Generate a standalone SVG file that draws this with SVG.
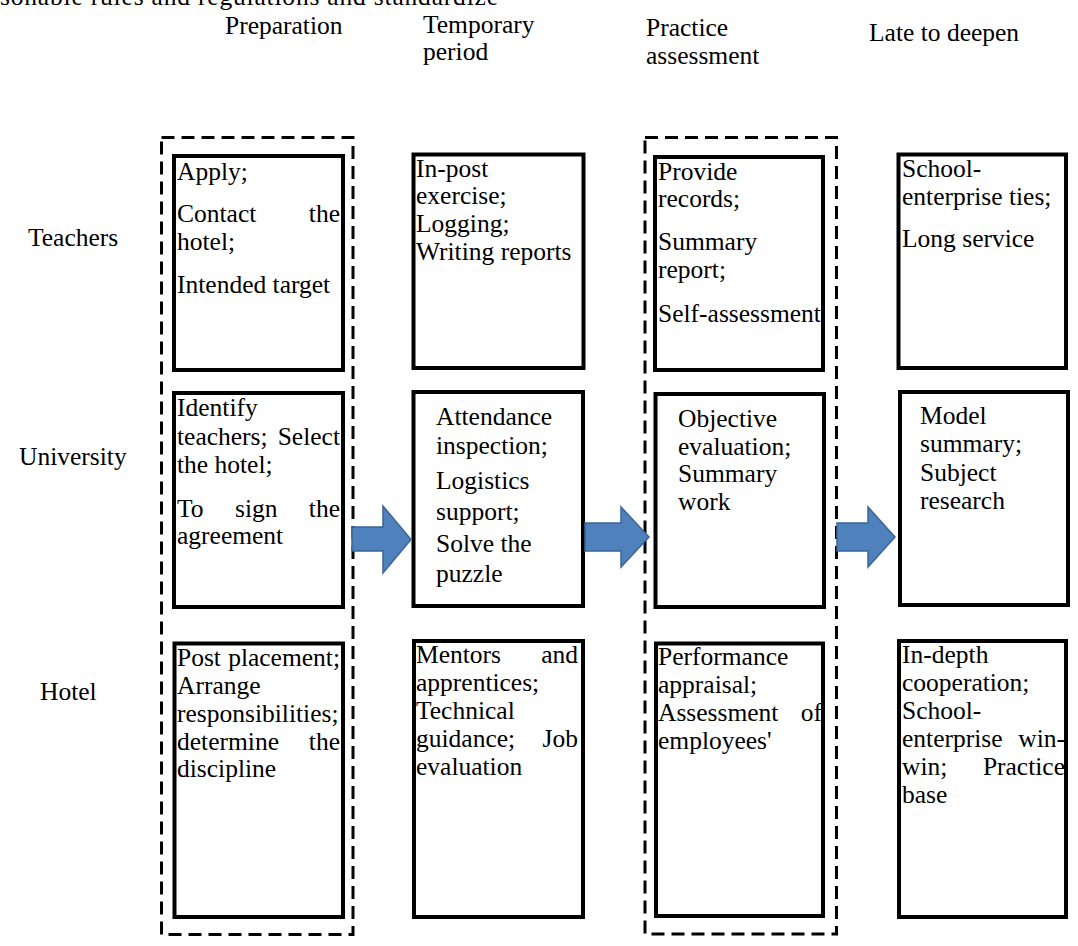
<svg xmlns="http://www.w3.org/2000/svg" width="1078" height="946" viewBox="0 0 1078 946">
<style>
text{font-family:"Liberation Serif","Times New Roman",serif;font-size:25.5px;fill:#000}
.e{text-anchor:end}
.box{fill:#fff;stroke:#000;stroke-width:4}
.dash{fill:none;stroke:#000;stroke-width:3;stroke-dasharray:13 7}
.arr{fill:#4F81BD;stroke:#3A6698;stroke-width:1.5}
</style>
<rect width="1078" height="946" fill="#fff"/>
<text x="0" y="5" textLength="498" lengthAdjust="spacing">sonable rules and regulations and standardize</text>
<g id="headers">
<text x="225" y="34">Preparation</text>
<text x="423" y="33">Temporary</text>
<text x="423" y="60">period</text>
<text x="646" y="36">Practice</text>
<text x="646" y="64">assessment</text>
<text x="869" y="41">Late to deepen</text>
</g>
<g id="rowlabels">
<text x="28" y="246">Teachers</text>
<text x="19" y="465">University</text>
<text x="40" y="700">Hotel</text>
</g>
<g id="groups">
<rect id="prep-group" class="dash" x="161.5" y="137.5" width="191.5" height="797"/>
<rect id="practice-group" class="dash" x="645" y="137.5" width="191.5" height="796.5"/>
</g>
<g id="prep-teachers">
<rect class="box" x="174" y="156" width="169" height="214"/>
<text><tspan x="177" y="180">Apply;</tspan><tspan x="177" y="221.5">Contact</tspan><tspan class="e" x="340" y="221.5">the</tspan><tspan x="177" y="250">hotel;</tspan><tspan x="177" y="293">Intended target</tspan></text>
</g>
<g id="temp-teachers">
<rect class="box" x="413.5" y="154.5" width="170" height="213.5"/>
<text><tspan x="416" y="176.5">In-post</tspan><tspan x="416" y="204">exercise;</tspan><tspan x="416" y="232">Logging;</tspan><tspan x="416" y="260">Writing reports</tspan></text>
</g>
<g id="practice-teachers">
<rect class="box" x="655" y="157" width="168" height="213"/>
<text><tspan x="658" y="180">Provide</tspan><tspan x="658" y="207">records;</tspan><tspan x="658" y="250">Summary</tspan><tspan x="658" y="278">report;</tspan><tspan x="658" y="321.5">Self-assessment</tspan></text>
</g>
<g id="late-teachers">
<rect class="box" x="898.5" y="154.5" width="167.5" height="213.5"/>
<text><tspan x="902" y="177">School-</tspan><tspan x="902" y="205">enterprise ties;</tspan><tspan x="902" y="247">Long service</tspan></text>
</g>
<g id="prep-university">
<rect class="box" x="174" y="393" width="169" height="214"/>
<text><tspan x="177" y="416">Identify</tspan><tspan x="177" y="445">teachers;</tspan><tspan class="e" x="340" y="445">Select</tspan><tspan x="177" y="473">the hotel;</tspan><tspan x="177" y="517">To</tspan><tspan x="235" y="517">sign</tspan><tspan class="e" x="340" y="517">the</tspan><tspan x="177" y="544">agreement</tspan></text>
</g>
<g id="temp-university">
<rect class="box" x="413.5" y="392" width="169.5" height="214"/>
<text><tspan x="436" y="425">Attendance</tspan><tspan x="436" y="454">inspection;</tspan><tspan x="436" y="489">Logistics</tspan><tspan x="436" y="520">support;</tspan><tspan x="436" y="552">Solve the</tspan><tspan x="436" y="582">puzzle</tspan></text>
</g>
<g id="practice-university">
<rect class="box" x="655.5" y="394" width="168.5" height="213"/>
<text><tspan x="678" y="427">Objective</tspan><tspan x="678" y="455">evaluation;</tspan><tspan x="678" y="482">Summary</tspan><tspan x="678" y="510">work</tspan></text>
</g>
<g id="late-university">
<rect class="box" x="900" y="392" width="168" height="213"/>
<text><tspan x="920" y="424">Model</tspan><tspan x="920" y="452">summary;</tspan><tspan x="920" y="481">Subject</tspan><tspan x="920" y="509">research</tspan></text>
</g>
<g id="prep-hotel">
<rect class="box" x="174.5" y="643.5" width="168.5" height="273.5"/>
<text><tspan x="177" y="666">Post</tspan><tspan class="e" x="340" y="666">placement;</tspan><tspan x="177" y="694">Arrange</tspan><tspan x="177" y="722">responsibilities;</tspan><tspan x="177" y="750">determine</tspan><tspan class="e" x="340" y="750">the</tspan><tspan x="177" y="777">discipline</tspan></text>
</g>
<g id="temp-hotel">
<rect class="box" x="414" y="641" width="169" height="276"/>
<text><tspan x="416" y="663">Mentors</tspan><tspan class="e" x="578" y="663">and</tspan><tspan x="416" y="691">apprentices;</tspan><tspan x="416" y="719">Technical</tspan><tspan x="416" y="747">guidance;</tspan><tspan class="e" x="578" y="747">Job</tspan><tspan x="416" y="775">evaluation</tspan></text>
</g>
<g id="practice-hotel">
<rect class="box" x="656" y="643.5" width="167" height="272.5"/>
<text><tspan x="658" y="665">Performance</tspan><tspan x="658" y="693">appraisal;</tspan><tspan x="658" y="721">Assessment</tspan><tspan class="e" x="822" y="721">of</tspan><tspan x="658" y="749">employees'</tspan></text>
</g>
<g id="late-hotel">
<rect class="box" x="899" y="641" width="167" height="276"/>
<text><tspan x="902" y="663">In-depth</tspan><tspan x="902" y="691">cooperation;</tspan><tspan x="902" y="719">School-</tspan><tspan x="902" y="747">enterprise</tspan><tspan class="e" x="1065" y="747">win-</tspan><tspan x="902" y="775">win;</tspan><tspan class="e" x="1065" y="775">Practice</tspan><tspan x="902" y="803">base</tspan></text>
</g>
<g id="connectors">
<polygon class="arr" points="352,527 383,527 383,506 411,539.5 383,573 383,551 352,551"/>
<polygon class="arr" points="585,523 621,523 621,507 649,537 621,567 621,551 585,551"/>
<polygon class="arr" points="837,523 868,523 868,507 895,537 868,567 868,551 837,551"/>
</g>
</svg>
